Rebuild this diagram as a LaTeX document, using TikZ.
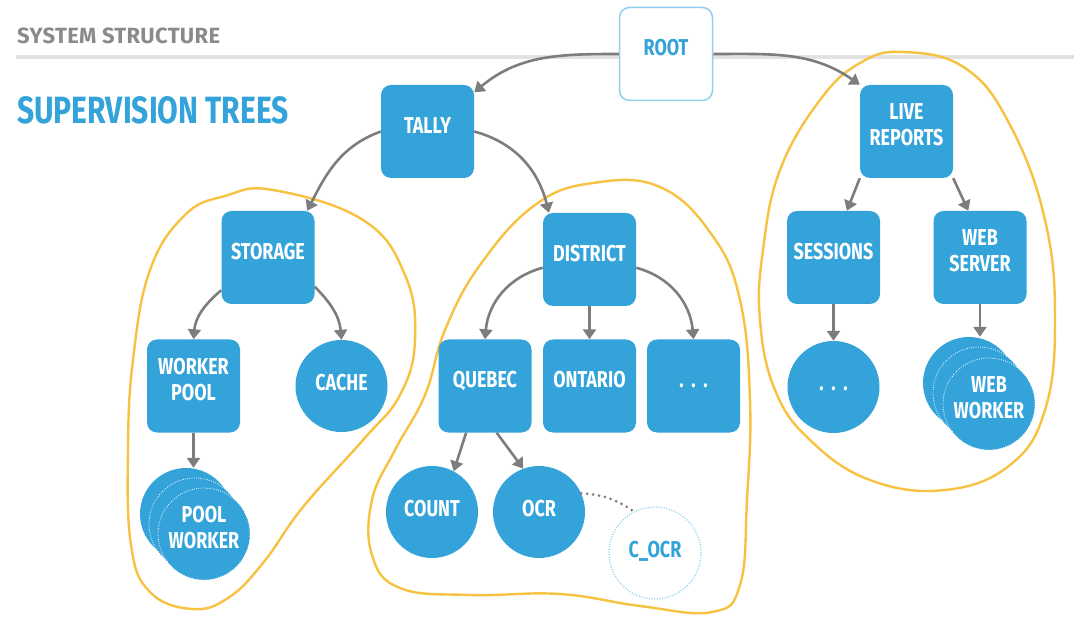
\documentclass[tikz,border=0pt]{standalone}
\usepackage{fontspec}
\setmainfont{Fira Sans}
\newfontfamily\dinfont[FakeStretch=0.78]{Fira Sans}
\newfontfamily\dintitle[FakeStretch=0.79]{Fira Sans}
\newfontfamily\headfont[LetterSpace=1.5]{Fira Sans}
\usetikzlibrary{arrows.meta}

\definecolor{supblue}{HTML}{33A3DA}
\definecolor{rootline}{HTML}{8FCFEF}
\definecolor{arrgray}{HTML}{7D7D7D}
\definecolor{grpyellow}{HTML}{F7C242}
\definecolor{headgray}{HTML}{8A8A8A}
\definecolor{rulegray}{HTML}{E2E2E2}

\newcommand{\boxfont}{\dinfont\bfseries\fontsize{23}{26}\selectfont}

\begin{document}
\begin{tikzpicture}[
  x=1pt, y=1pt,
  box/.style ={rectangle, rounded corners=10pt, fill=supblue, text=white,
               minimum width=93pt, minimum height=93pt, inner sep=0pt,
               align=center, font=\boxfont, text height=16pt, text depth=12pt},
  box2/.style={box, text height=29pt, text depth=0pt},
  proc/.style={circle, fill=supblue, text=white, minimum size=92pt, inner sep=0pt,
               align=center, font=\boxfont, text height=16pt, text depth=8pt},
  proc2/.style={proc, text height=28pt, text depth=0pt},
  stackc/.style={proc, draw=white, dash pattern=on 0.8pt off 1.4pt, line width=0.8pt},
  arr/.style ={-{Triangle[length=10pt,width=13pt]}, draw=arrgray, line width=2.6pt},
  grp/.style ={draw=grpyellow, line width=2.4pt},
]
\useasboundingbox (0,0) rectangle (1074,-620);

% --- heading ---
\draw[rulegray, line width=3.5pt] (16,-57) -- (1074,-57);
\node[anchor=west, inner sep=0pt, text=headgray, font=\headfont\bfseries\fontsize{22}{24}\selectfont]
  (head) at (17,-36) {SYSTEM STRUCTURE};
\node[anchor=west, inner sep=0pt, text=supblue, font=\dintitle\bfseries\fontsize{38}{40}\selectfont]
  (title) at (17,-110) {SUPERVISION TREES};

% --- supervision groups ---
\draw[grp] plot[smooth cycle, tension=0.7] coordinates {
  (273,-190) (363,-220) (405,-275) (415,-340) (400,-395) (363,-440) (303,-507)
  (263,-563) (228,-598) (192,-609) (150,-592) (131,-545) (128,-450) (133,-360)
  (150,-270) (185,-215) (225,-196)};
\draw[grp] plot[smooth cycle, tension=0.7] coordinates {
  (593,-183) (660,-187) (712,-235) (740,-300) (750,-400) (747,-500) (740,-585)
  (712,-612) (640,-606) (560,-594) (470,-595) (400,-588) (372,-555) (372,-500)
  (395,-450) (425,-395) (445,-330) (480,-265) (535,-205)};
\draw[grp] plot[smooth cycle, tension=0.7] coordinates {
  (903,-52) (965,-68) (1010,-125) (1045,-220) (1055,-320) (1045,-410) (1010,-465)
  (945,-490) (870,-480) (810,-440) (775,-390) (760,-320) (763,-250) (780,-170)
  (820,-100) (860,-63)};

% --- supervisors ---
\node[box, fill=white, draw=rootline, line width=1.5pt, text=supblue] (root) at (666,-54) {ROOT};
\node[box] (tally)    at (427.5,-131.5) {TALLY};
\node[box] (storage)  at (268,-257.5)   {STORAGE};
\node[box] (district) at (589.5,-259.5) {DISTRICT};
\node[box2] (live)    at (906.5,-131.5) {LIVE\\REPORTS};
\node[box] (sessions) at (833.5,-257.5) {SESSIONS};
\node[box2] (websrv)  at (980,-257.5)   {WEB\\SERVER};
\node[box2] (wpool)   at (193.5,-386)   {WORKER\\POOL};
\node[box] (quebec)   at (485,-386)     {QUEBEC};
\node[box] (ontario)  at (589.5,-386)   {ONTARIO};
\node[box] (distmore) at (693.5,-386)   {.\,\,.\,\,.};

% --- workers ---
\node[proc] (cache)    at (341.5,-386) {CACHE};
\node[proc] (count)    at (432,-512)   {COUNT};
\node[proc] (ocr)      at (539,-512)   {OCR};
\node[proc, fill=white, text=supblue, draw=rootline, line width=1.3pt,
      dash pattern=on 1pt off 1.6pt] (cocr) at (655,-553) {C\_OCR};
\node[proc] (sessmore) at (833.5,-387) {.\,\,.\,\,.};
\node[proc]   (pwA) at (186,-514) {};
\node[stackc] (pwB) at (195,-524) {};
\node[stackc, text height=28pt, text depth=0pt] (pworker) at (204,-534) {POOL\\WORKER};
\node[proc]   (wwA) at (969,-383) {};
\node[stackc] (wwB) at (979,-393) {};
\node[stackc, text height=28pt, text depth=0pt] (wworker) at (989,-404) {WEB\\WORKER};

% --- links ---
\draw[arr] (root.west) to[out=180, in=40] (tally.40);
\draw[arr] (root.east) to[out=0, in=145] (live.north west);
\draw[arr] (tally.west) to[out=200, in=63] (storage.50);
\draw[arr] (tally.east) to[out=-15, in=104] (district.131);
\draw[arr] (storage.215) to[out=220, in=85] (wpool.north);
\draw[arr] (storage.-32) to[out=-45, in=95] (cache.north);
\draw[arr] (district.190) to[out=195, in=85] (quebec.north);
\draw[arr] (district) -- (ontario);
\draw[arr] (district.-10) to[out=-15, in=95] (distmore.north);
\draw[arr] (quebec.248) -- (count.62);
\draw[arr] (quebec.-76) -- (ocr.110);
\draw[arr] (wpool) -- (wpool |- pwA.north);
\draw[arr] (live.225) -- (sessions.74);
\draw[arr] (live.-45) -- (websrv.104);
\draw[arr] (sessions) -- (sessmore);
\draw[arr] (websrv) -- (websrv |- wwA.north);
\draw[arrgray, line width=3pt, line cap=round, dash pattern=on 0pt off 6pt]
  (ocr.24) to[bend left=15] (cocr.117);

\end{tikzpicture}
\end{document}
